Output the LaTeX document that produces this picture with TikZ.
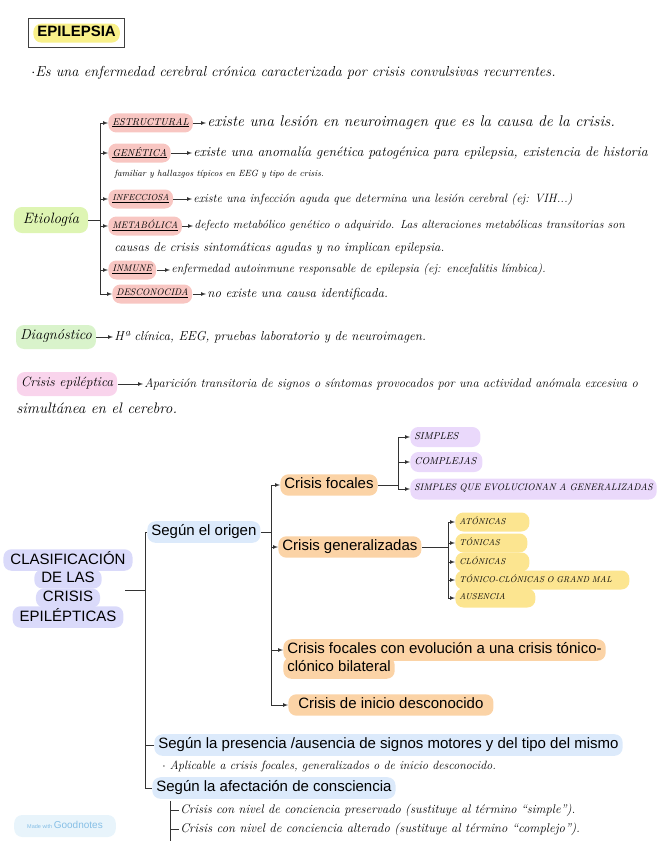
\documentclass[tikz,border=0pt]{standalone}
\usepackage{fontspec}
\usepackage{tikz}
\usetikzlibrary{arrows}
\newfontfamily\typedfont{Liberation Sans}
\definecolor{hlyellow}{HTML}{F8F08A}
\definecolor{hlgreen}{HTML}{DEF5B3}
\definecolor{hlgreentwo}{HTML}{D9F3CB}
\definecolor{hlpink}{HTML}{F8C6C2}
\definecolor{hlrose}{HTML}{F9D4EC}
\definecolor{hllav}{HTML}{DADAFA}
\definecolor{hlblue}{HTML}{DCEAFB}
\definecolor{hlorange}{HTML}{FBD3A6}
\definecolor{hlviolet}{HTML}{EAD9FB}
\definecolor{hlgold}{HTML}{FCE590}
\definecolor{goodfill}{HTML}{E8F4FB}
\definecolor{goodtext}{HTML}{86BFE6}
\tikzset{
  hand/.style={font=\itshape\fontsize{#1}{#1}\selectfont},
  note/.style={hand=#1, inner sep=1pt, anchor=west},
  typed/.style={font=\typedfont\fontsize{15}{15}\selectfont},
  pill/.style={rounded corners=8pt, inner xsep=4pt, inner ysep=3pt, execute at begin node=\strut},
}

\begin{document}
\begin{tikzpicture}[x=1pt, y=-1pt, >=latex, line width=0.7pt, draw=black!80]
  \useasboundingbox (0,0) rectangle (656,848);

  % titulo
  \node[draw=black!75, line width=1.2pt, minimum width=96pt, minimum height=29pt, anchor=north west] (titbox) at (28,18) {};
  \node[pill, fill=hlyellow, inner ysep=2pt, font=\typedfont\bfseries\fontsize{15}{15}\selectfont] (tit) at (titbox.center) {EPILEPSIA};
  \node[note=14.5] (def) at (30,73) {$\cdot$Es una enfermedad cerebral crónica caracterizada por crisis convulsivas recurrentes.};

  % etiologia
  \node[pill, hand=15, fill=hlgreen, minimum height=26pt, inner xsep=9pt] (etio) at (51,220) {Etiología};
  \coordinate (eb) at (100,220);
  \node[pill, hand=10, fill=hlpink, minimum height=19pt, anchor=west] (estr) at (108,123) {\underline{ESTRUCTURAL}};
  \node[pill, hand=10, fill=hlpink, minimum height=19pt, anchor=west] (gene) at (108,153) {\underline{GENÉTICA}};
  \node[pill, hand=8.7, fill=hlpink, minimum height=19pt, anchor=west] (infe) at (108,199) {\underline{INFECCIOSA}};
  \node[pill, hand=9.5, fill=hlpink, minimum height=19pt, anchor=west] (meta) at (108,226) {\underline{METABÓLICA}};
  \node[pill, hand=9.5, fill=hlpink, minimum height=19pt, anchor=west] (inmu) at (108,270) {\underline{INMUNE}};
  \node[pill, hand=9.5, fill=hlpink, minimum height=19pt, anchor=west] (desc) at (112,294) {\underline{DESCONOCIDA}};
  \node[note=15.5] (estr-d) at (206,123) {existe una lesión en neuroimagen que es la causa de la crisis.};
  \node[note=13.8] (gene-d) at (192,153) {existe una anomalía genética patogénica para epilepsia, existencia de historia};
  \node[note=9] (gene-d2) at (113,174) {familiar y hallazgos típicos en EEG y tipo de crisis.};
  \node[note=12.1] (infe-d) at (192,199) {existe una infección aguda que determina una lesión cerebral (ej: VIH...)};
  \node[note=11.8] (meta-d) at (193,226) {defecto metabólico genético o adquirido. Las alteraciones metabólicas transitorias son};
  \node[note=12.7] (meta-d2) at (113,248) {causas de crisis sintomáticas agudas y no implican epilepsia.};
  \node[note=12] (inmu-d) at (170,270) {enfermedad autoinmune responsable de epilepsia (ej: encefalitis límbica).};
  \node[note=13] (desc-d) at (206,294) {no existe una causa identificada.};
  \draw (etio) -- (eb);
  \draw (eb |- estr) -- (eb |- desc);
  \foreach \n in {estr,gene,infe,meta,inmu,desc}{
    \draw[->] (eb |- \n) -- (\n.west);
    \draw[->] (\n.east) -- (\n-d.west);
  }

  % diagnostico y crisis epileptica
  \node[pill, hand=14.5, fill=hlgreentwo, minimum height=24pt] (diag) at (56,337) {Diagnóstico};
  \node[note=13] (diag-d) at (113,337) {Hª clínica, EEG, pruebas laboratorio y de neuroimagen.};
  \draw[->] (diag) -- (diag-d);
  \node[pill, hand=13.5, fill=hlrose, minimum height=24pt] (cep) at (67,384) {Crisis epiléptica};
  \node[note=12.5] (cep-d) at (143,384) {Aparición transitoria de signos o síntomas provocados por una actividad anómala excesiva o};
  \node[note=15.2] (cep-d2) at (15,408) {simultánea en el cerebro.};
  \draw[->] (cep) -- (cep-d);

  % clasificacion
  \foreach \n/\t/\y in {cl1/CLASIFICACIÓN/560, cl2/DE LAS/579, cl3/CRISIS/598, cl4/EPILÉPTICAS/617}
    \node[pill, typed, fill=hllav, inner ysep=2pt, inner xsep=7pt] (\n) at (68,\y) {\t};
  \coordinate (cl) at (125,590);
  \coordinate (t) at (145,590);
  \draw (cl) -- (t);

  \node[pill, typed, fill=hlblue, anchor=west] (orig) at (147,532) {Según el origen};
  \node[pill, typed, fill=hlblue, anchor=west] (pres) at (154,745) {Según la presencia /ausencia de signos motores y del tipo del mismo};
  \node[note=12] (apli) at (161,766) {$\cdot$ Aplicable a crisis focales, generalizados o de inicio desconocido.};
  \node[pill, typed, fill=hlblue, anchor=west] (afec) at (152,788) {Según la afectación de consciencia};
  \draw (orig.west) -| (t |- afec) -- (afec.west);
  \draw (t |- pres) -- (pres.west);

  \node[note=12.5] (con1) at (179,810) {Crisis con nivel de conciencia preservado (sustituye al término “simple”).};
  \node[note=12.7] (con2) at (179,829) {Crisis con nivel de conciencia alterado (sustituye al término “complejo”).};
  \coordinate (c) at (170,801);
  \coordinate (cend) at (170,841);
  \draw (c) -- (cend);
  \foreach \n in {con1,con2} \draw (c |- \n) -- (\n.west);

  % segun el origen
  \coordinate (s) at (271,532);
  \draw (orig.east) -- (s);
  \node[pill, typed, fill=hlorange, anchor=west] (foc) at (280,485) {Crisis focales};
  \node[pill, typed, fill=hlorange, anchor=west] (gen) at (278,547) {Crisis generalizadas};
  \node[pill, typed, fill=hlorange, anchor=west] (evo) at (283,650) {Crisis focales con evolución a una crisis tónico-};
  \node[pill, typed, fill=hlorange, anchor=west] (evo2) at (283,668) {clónico bilateral};
  \node[pill, typed, fill=hlorange, anchor=west, inner xsep=10pt] (desco) at (288,705) {Crisis de inicio desconocido};
  \draw (s |- foc) -- (s |- desco);
  \foreach \n in {foc,gen,evo,desco} \draw[->] (s |- \n) -- (\n.west);

  % focales
  \coordinate (f) at (398,485);
  \draw (foc.east) -- (f);
  \node[pill, hand=10, fill=hlviolet, minimum height=20pt, text width=62pt, anchor=west] (simp) at (410,437) {SIMPLES};
  \node[pill, hand=10, fill=hlviolet, minimum height=20pt, text width=64pt, anchor=west] (comp) at (410,462) {COMPLEJAS};
  \node[pill, hand=9.5, fill=hlviolet, minimum height=21pt, anchor=west] (sqe) at (410,489) {SIMPLES QUE EVOLUCIONAN A GENERALIZADAS};
  \draw (f |- simp) -- (f |- sqe);
  \foreach \n in {simp,comp,sqe} \draw[->] (f |- \n) -- (\n.west);

  % generalizadas
  \coordinate (g) at (448,547);
  \draw (gen.east) -- (g);
  \foreach \n/\t/\y/\w in {ato/ATÓNICAS/522/66, toni/TÓNICAS/543/64, clon/CLÓNICAS/562/66, tocl/TÓNICO-CLÓNICAS O GRAND MAL/580/166, ause/AUSENCIA/598/72}
    \node[pill, hand=8.5, fill=hlgold, minimum height=19pt, text width=\w pt, anchor=west] (\n) at (455,\y) {\t};
  \draw (g |- ato) -- (g |- ause);
  \foreach \n in {ato,toni,clon,tocl,ause} \draw[->] (g |- \n) -- (\n.west);

  \node[pill, fill=goodfill, text=goodtext, minimum height=22pt, inner xsep=13pt, font=\typedfont\fontsize{5.5}{5.5}\selectfont] (good) at (65,826) {Made with {\fontsize{10}{10}\selectfont Goodnotes}};
\end{tikzpicture}
\end{document}
